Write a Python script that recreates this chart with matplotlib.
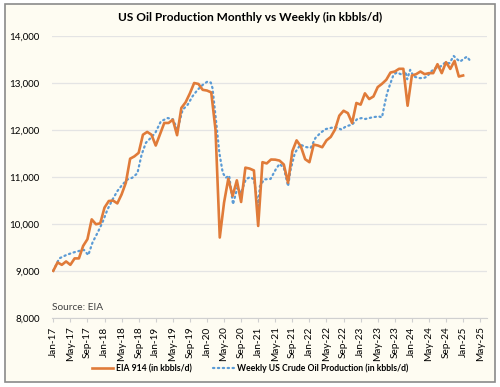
import matplotlib
matplotlib.use("Agg")
from matplotlib import pyplot as plt
from matplotlib.patches import Rectangle

# monthly EIA 914 series, one value per month starting at Jan-17 position
eia_914 = [
    9006, 9184, 9133, 9205, 9133, 9270, 9270, 9536, 9678, 10100, 9996, 10016,
    10350, 10490, 10500, 10440, 10630, 10880, 11390, 11440, 11515, 11900, 11960, 11900,
    11670, 11910, 12150, 12150, 12220, 11890, 12470, 12590, 12780, 13000, 12980, 12855,
    12840, 12800, 12010, 9714, 10455, 10964, 10596, 10930, 10470, 11200, 11180, 11140,
    9960, 11316, 11290, 11373, 11370, 11350, 11267, 10880, 11550, 11780, 11650, 11380,
    11316, 11690, 11670, 11634, 11780, 11854, 12010, 12305, 12410, 12360, 12150, 12575,
    12540, 12780, 12659, 12714, 12913, 12983, 13068, 13223, 13244, 13302, 13302, 12517,
    13160, 13188, 13244, 13188, 13210, 13210, 13400, 13210, 13443, 13300, 13470, 13138,
    13160,
]

# weekly series, position in months since Jan-17 and value
weekly_pos = [
    0, 1.4, 3, 4.5, 6.1, 7.2, 8.2, 9.2, 10.4, 11.5, 12.7, 13.9, 15, 16.2, 17.4, 18.5,
    19.7, 20.7, 21.7, 22.8, 23.9, 25.2, 26.8, 28, 29.1, 30.3, 31.5, 32.6, 33.8, 35,
    36.1, 36.9, 37.3, 38.1, 38.9, 39.7, 40.4, 41.2, 42.1, 43.1, 43.9, 45.1, 46.1, 47,
    48, 48.4, 49.4, 50.9, 52.1, 53, 54, 55, 55.6, 56.6, 57.9, 59.1, 60.3, 61.4, 62.6,
    63.8, 65, 66.1, 67.5, 68.6, 70, 71.2, 72.3, 73.1, 74.7, 76.2, 77, 77.6, 78.2, 79,
    79.7, 80.5, 81.7, 82.5, 82.9, 83.6, 84.4, 85.6, 86.8, 87.6, 88.5, 89.5, 90.7, 91.8,
    92.8, 93.8, 94.6, 95.3, 96.3, 96.9, 97.8,
]
weekly = [
    9006, 9270, 9340, 9390, 9430, 9450, 9340, 9610, 9820, 10030, 10310, 10525, 10700,
    10840, 10950, 10985, 11080, 11480, 11730, 11830, 11940, 12185, 12255, 12230, 12010,
    12430, 12540, 12715, 12855, 12960, 13030, 13010, 12890, 12220, 11515, 11090, 10985,
    11030, 10420, 10770, 10650, 10950, 11000, 10950, 10380, 10805, 10950, 10960, 11160,
    11280, 11195, 10805, 11160, 11515, 11690, 11640, 11620, 11830, 11940, 12020, 12045,
    12065, 12010, 12080, 12115, 12235, 12255, 12235, 12270, 12290, 12270, 12540, 12785,
    13000, 13175, 13225, 13175, 13245, 13080, 13280, 13140, 13105, 13105, 13140, 13245,
    13315, 13350, 13435, 13420, 13575, 13505, 13455, 13525, 13560, 13455,
]

tick_labels = [
    "Jan-17", "May-17", "Sep-17", "Jan-18", "May-18", "Sep-18", "Jan-19", "May-19",
    "Sep-19", "Jan-20", "May-20", "Sep-20", "Jan-21", "May-21", "Sep-21", "Jan-22",
    "May-22", "Sep-22", "Jan-23", "May-23", "Sep-23", "Jan-24", "May-24", "Sep-24",
    "Jan-25", "May-25",
]
y_ticks = [8000, 9000, 10000, 11000, 12000, 13000, 14000]

bg = "#fefcf2"
orange = "#e07b39"
blue = "#5b9bd5"

plt.rcParams["font.family"] = ["Lato", "DejaVu Sans"]

fig = plt.figure(figsize=(5, 3.87), dpi=100, facecolor="white")
fig.patches.append(Rectangle((0.01, 0.012), 0.98, 0.978, transform=fig.transFigure,
                             facecolor=bg, edgecolor="#8a8a8a", linewidth=1.2, zorder=-10))

ax = fig.add_axes([0.104, 0.178, 0.87, 0.729])
ax.set_facecolor(bg)

ax.plot(range(len(eia_914)), eia_914, color=orange, linewidth=1.9,
        label="EIA 914 (in kbbls/d)", zorder=3)
ax.plot(weekly_pos, weekly, color=blue, linewidth=1.6, linestyle=(0, (0.6, 1.6)),
        dash_capstyle="round", label="Weekly US Crude Oil Production (in kbbls/d)", zorder=2)

ax.set_ylim(8000, 14000)
ax.set_xlim(-0.3, 101.6)
ax.set_yticks(y_ticks)
ax.set_yticklabels([f"{v:,}" for v in y_ticks], fontsize=7)
ax.set_xticks(range(0, 101, 4))
ax.set_xticklabels(tick_labels, rotation=90, fontsize=7.2)
ax.tick_params(axis="y", length=0, pad=9)
ax.tick_params(axis="x", length=3, color="#d0d0d0", pad=3)
ax.grid(axis="y", color="#e4e4e4", linewidth=0.9)
ax.set_axisbelow(True)
for s in ["top", "right", "left"]:
    ax.spines[s].set_visible(False)
ax.spines["bottom"].set_color("#d0d0d0")

ax.text(0.0, 0.03, "Source: EIA", transform=ax.transAxes, fontsize=7.3, color="#404040")

fig.suptitle("US Oil Production Monthly vs Weekly (in kbbls/d)", fontsize=8.6,
             fontweight="bold", y=0.97, x=0.5)

leg = fig.legend(loc="center", bbox_to_anchor=(0.5, 0.048), ncol=2, frameon=False,
                 prop={"size": 6.2, "weight": "bold"}, handlelength=2.5, columnspacing=2.4,
                 handletextpad=0.3)

fig.savefig("out.png", dpi=100, facecolor="white")
